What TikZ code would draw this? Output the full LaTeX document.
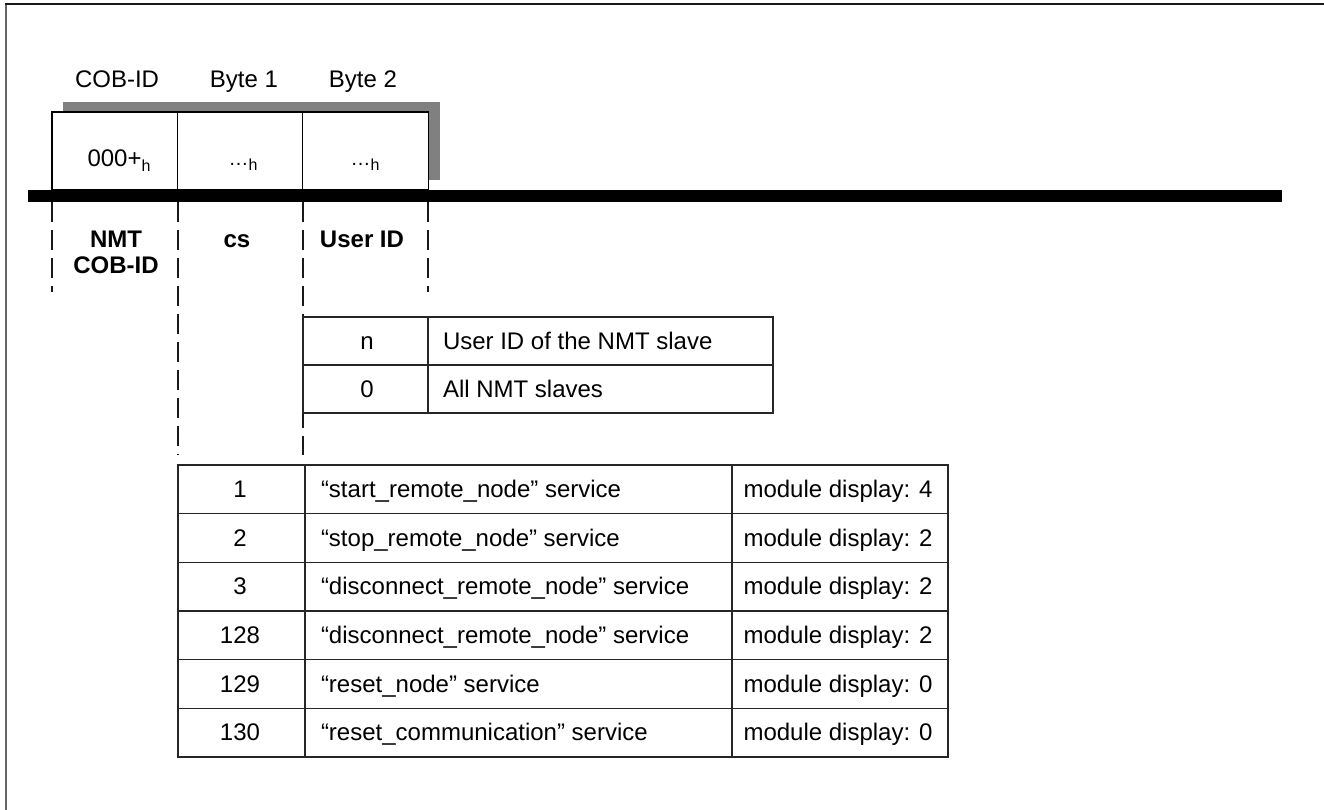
\documentclass[tikz,border=0pt]{standalone}
\usepackage{fontspec}
\setmainfont{Liberation Sans}
\begin{document}
\begin{tikzpicture}[x=0.75pt,y=-0.75pt,
  every node/.style={inner sep=0pt, outer sep=0pt},
  txt/.style={font=\fontsize{18}{21}\selectfont, anchor=base},
  btxt/.style={font=\fontsize{18}{21}\selectfont\bfseries, anchor=base},
  ltxt/.style={font=\fontsize{18}{21}\selectfont, anchor=base west},
  smallh/.style={font=\fontsize{12}{14}\selectfont},
  boxcell/.style={draw=black, line width=0.9pt, fill=white, minimum width=94.5pt, minimum height=58.5pt},
  tcell/.style={draw=black!85, line width=1.1pt, minimum height=36pt},
  ucell/.style={draw=black!85, line width=1.1pt, minimum height=36.5pt},
  dashline/.style={draw=black!90, line width=1pt, dash pattern=on 15pt off 6pt}]
\useasboundingbox (0,0) rectangle (1324,810);
% frame (top and left edges)
\draw[line width=1.8pt, draw=black!60] (6,810) -- (6,4);
\draw[line width=1.6pt, draw=black!90] (5,4) -- (1324,4);

% header labels
\node[txt] (hcob) at (117,87) {COB-ID};
\node[txt] (hb1) at (244,87) {Byte 1};
\node[txt] (hb2) at (363,87) {Byte 2};

% shadow and frame boxes
\fill[black!50] (63,102) rectangle (440,180);
\node[boxcell] (bcob) at (115,151) {};
\node[boxcell] (bb1) at (240.5,151) {};
\node[boxcell] (bb2) at (365.5,151) {};
\node[txt] (vcob) at (119,166) {000+\raisebox{-4pt}{\fontsize{12}{14}\selectfont h}};
\node[txt, smallh] (vb1) at (243,170) {\raisebox{3.5pt}{\fontsize{15}{17}\selectfont …}h};
\node[txt, smallh] (vb2) at (365,170) {\raisebox{3.5pt}{\fontsize{15}{17}\selectfont …}h};

% bus bar
\fill[black] (28,190) rectangle (1282,202);

% dashed guide lines
\coordinate (d1a) at (52,202);  \coordinate (d1b) at (52,292);
\coordinate (d4a) at (428,202); \coordinate (d4b) at (428,292);
\coordinate (d2a) at (178,202); \coordinate (d2b) at (178,455);
\coordinate (d3a) at (303,202); \coordinate (d3b) at (303,317);
\coordinate (d3c) at (303,413); \coordinate (d3d) at (303,455);
\draw[dashline] (d1a) -- (d1b);
\draw[dashline] (d4a) -- (d4b);
\draw[dashline] (d2a) -- (d2b);
\draw[dashline] (d3a) -- (d3b);
\draw[dashline, dash phase=4pt] (d3c) -- (d3d);

% field labels
\node[btxt] (lnmt) at (116,247) {NMT};
\node[btxt] (lcob) at (116,273) {COB-ID};
\node[btxt] (lcs) at (237,247) {cs};
\node[btxt] (luid) at (362,247) {User ID};

% table 1 (User ID)
\node[tcell, minimum width=93.75pt] (u11) at (365.5,341) {};
\node[tcell, minimum width=258.75pt] (u12) at (600.5,341) {};
\node[tcell, minimum width=93.75pt] (u21) at (365.5,389) {};
\node[tcell, minimum width=258.75pt] (u22) at (600.5,389) {};
\node[txt] (tu11) at (367,349) {n};
\node[ltxt] (tu12) at (443,349) {User ID of the NMT slave};
\node[txt] (tu21) at (367,397) {0};
\node[ltxt] (tu22) at (443,397) {All NMT slaves};

% table 2 (command specifier)
\foreach \r/\yc/\num/\svc/\md in {
  1/489.3/1/{“start\_remote\_node” service}/4,
  2/538.0/2/{“stop\_remote\_node” service}/2,
  3/586.7/3/{“disconnect\_remote\_node” service}/2,
  4/635.3/128/{“disconnect\_remote\_node” service}/2,
  5/684.0/129/{“reset\_node” service}/0,
  6/732.7/130/{“reset\_communication” service}/0} {
  \node[ucell, minimum width=95.25pt] (c\r a) at (241.5,\yc) {};
  \node[ucell, minimum width=320.25pt] (c\r b) at (518.5,\yc) {};
  \node[ucell, minimum width=162pt] (c\r c) at (840,\yc) {};
  \node[txt] (t\r a) at (240,\yc+8) {\num};
  \node[ltxt] (t\r b) at (321,\yc+8) {\svc};
  \node[txt] (t\r c) at (838,\yc+8) {module display: \md};
}
\end{tikzpicture}
\end{document}
